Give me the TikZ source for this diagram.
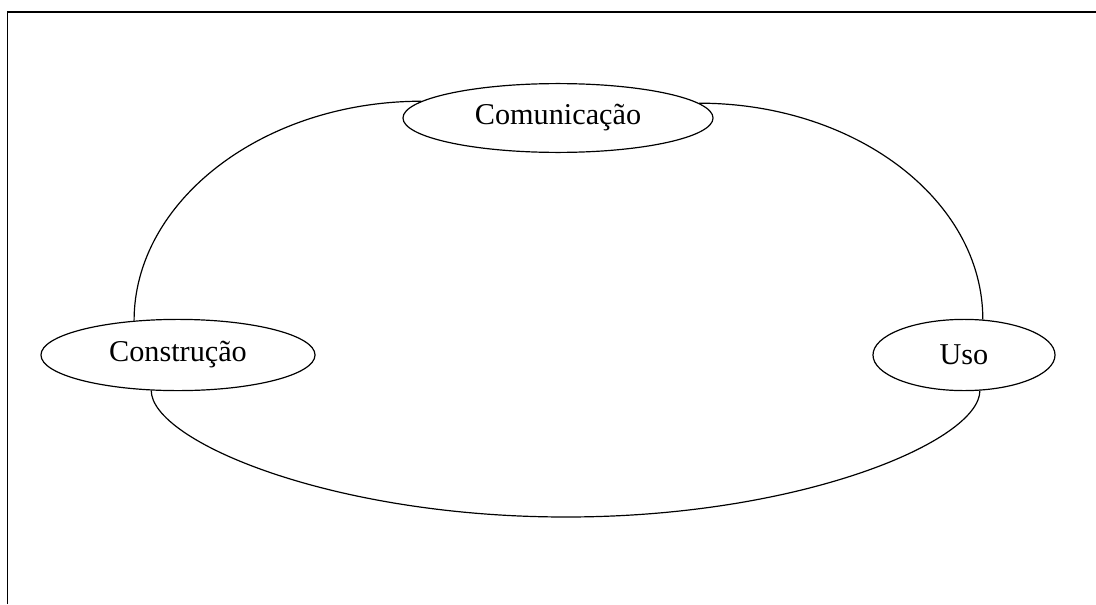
\documentclass[tikz,border=0pt]{standalone}
\usepackage{fontspec}
\setmainfont{Liberation Serif}
\usepackage{tikz}
\usetikzlibrary{shapes.geometric}
\usetikzlibrary{positioning}
\tikzset{oval/.style = {draw, ellipse, inner sep = 0, line width = 0.85pt, minimum height = 1.78cm, font = \fontsize{21.5}{25}\selectfont}}
\tikzset{arc/.style = {line width = 0.85pt}}

\begin{document}
\begin{tikzpicture}[x = 0.025cm, y = -0.025cm]
    \useasboundingbox (0, 0) rectangle (1096, 604);
    \draw [line width = 1.4pt] (7.5, 604) -- (7.5, 12) -- (1096, 12);

    \node [oval, minimum width = 7.75cm, minimum height = 1.72cm] (com) at (558, 118) {Comunicação};
    \node [oval, minimum width = 6.85cm] (con) at (178, 355) {Construção};
    \node [oval, minimum width = 4.55cm] (uso) at (964, 355) {Uso};

    \draw [arc] (con.142.3) .. controls +(0, -120) and +(-158, 0) .. (com.173.6);
    \draw [arc] (com.6.4) .. controls +(156, 0) and +(0, -120) .. (uso.62.8);
    \draw [arc] (con.233.4) .. controls +(0, 50) and +(-236, 0) .. (566, 517)
        .. controls +(236, 0) and +(0, 50) .. (uso.294.6);
\end{tikzpicture}
\end{document}
